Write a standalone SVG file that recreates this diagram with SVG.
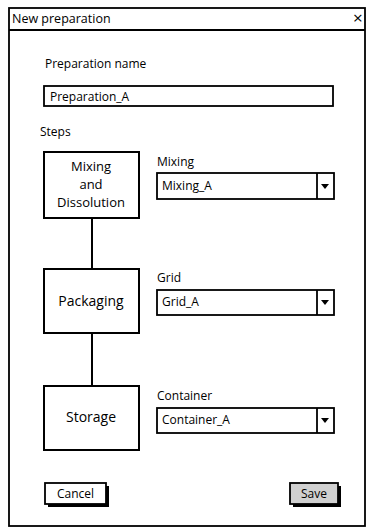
<svg xmlns="http://www.w3.org/2000/svg" width="367" height="527" viewBox="0 0 367 527">
<style>
text{font-family:"Open Sans","Liberation Sans",sans-serif;fill:#000}
.lbl{font-size:12px}
.box{fill:#fff;stroke:#000;stroke-width:2}
.ui{fill:#fff;stroke:#000;stroke-width:1.8}
.step{font-size:13px;text-anchor:middle}
.step1{font-size:13px;text-anchor:middle}
.conn{stroke:#000;stroke-width:2;fill:none}
</style>
<rect width="367" height="527" fill="#fff"/>
<g id="window">
<rect x="9" y="8" width="356" height="518" fill="#fff" stroke="#000" stroke-width="1.8"/>
<line x1="9" y1="30" x2="365" y2="30" stroke="#000" stroke-width="1.8"/>
<text x="12" y="23" style="font-size:12.5px">New preparation</text>
<text x="353" y="24" style="font-size:17px">×</text>
</g>
<g id="name-field">
<text x="45" y="68" class="lbl">Preparation name</text>
<rect x="44" y="86" width="289" height="20" class="ui"/>
<text x="50" y="101" class="lbl">Preparation_A</text>
</g>
<text x="40" y="136" class="lbl">Steps</text>
<g id="connectors">
<line x1="92" y1="218" x2="92" y2="269" class="conn"/>
<line x1="92" y1="333" x2="92" y2="386" class="conn"/>
</g>
<g id="step-mixing">
<rect x="44" y="152" width="95" height="66" class="box"/>
<text x="91" y="171" class="step1">Mixing</text>
<text x="91" y="189" class="step1">and</text>
<text x="91" y="207" class="step1">Dissolution</text>
</g>
<g id="step-packaging">
<rect x="44" y="269" width="95" height="64" class="box"/>
<text x="91" y="306" class="step" style="font-size:14px">Packaging</text>
</g>
<g id="step-storage">
<rect x="44" y="386" width="95" height="64" class="box"/>
<text x="91" y="422" class="step" style="font-size:14px">Storage</text>
</g>
<g id="mixing-select">
<text x="157" y="166" class="lbl">Mixing</text>
<rect x="157" y="173" width="177" height="26" class="ui"/>
<line x1="317" y1="173" x2="317" y2="199" stroke="#000" stroke-width="1.8"/>
<path d="M321 184 h8 l-4 5 z" fill="#000"/>
<text x="162" y="190" class="lbl">Mixing_A</text>
</g>
<g id="grid-select">
<text x="157" y="282" class="lbl">Grid</text>
<rect x="157" y="290" width="177" height="25" class="ui"/>
<line x1="317" y1="290" x2="317" y2="315" stroke="#000" stroke-width="1.8"/>
<path d="M321 300 h8 l-4 5 z" fill="#000"/>
<text x="162" y="306" class="lbl">Grid_A</text>
</g>
<g id="container-select">
<text x="157" y="400" class="lbl">Container</text>
<rect x="157" y="408" width="177" height="25" class="ui"/>
<line x1="317" y1="408" x2="317" y2="433" stroke="#000" stroke-width="1.8"/>
<path d="M321 418 h8 l-4 5 z" fill="#000"/>
<text x="162" y="424" class="lbl">Container_A</text>
</g>
<g id="cancel-button">
<rect x="48" y="486" width="61" height="21" fill="#000"/>
<rect x="45" y="483" width="61" height="21" class="ui"/>
<text x="75.5" y="498" class="lbl" text-anchor="middle">Cancel</text>
</g>
<g id="save-button">
<rect x="293" y="486" width="48" height="21" fill="#000"/>
<rect x="290" y="483" width="48" height="21" fill="#d0d0d0" stroke="#000" stroke-width="1.8"/>
<text x="314" y="498" class="lbl" text-anchor="middle">Save</text>
</g>
</svg>
